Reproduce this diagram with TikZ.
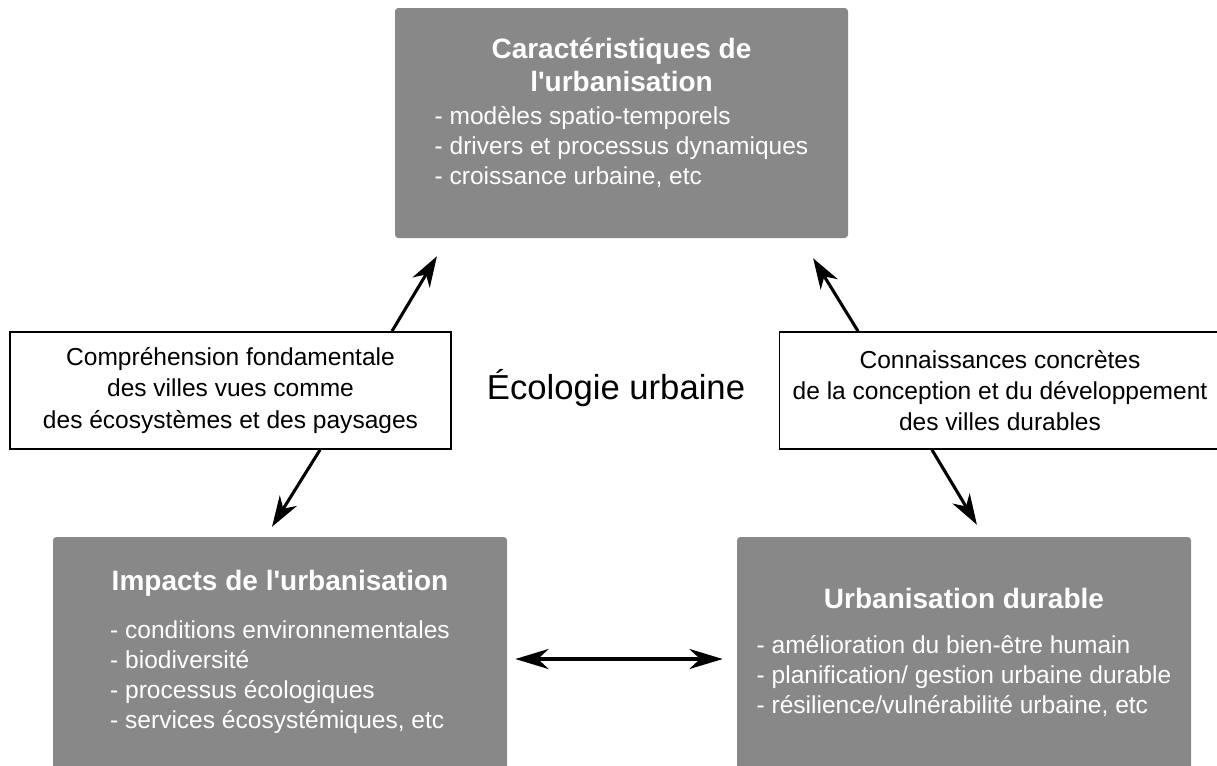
\documentclass[tikz,border=0pt]{standalone}
\usepackage{fontspec}
\setmainfont{Liberation Sans}[Ligatures=TeXOff]
\usetikzlibrary{arrows.meta, positioning, calc}
\definecolor{boxgrey}{RGB}{136,136,136}
\tikzstyle{greybox} = [rectangle, rounded corners=2.5pt, fill=boxgrey, text=white, inner sep=0pt]
\tikzstyle{linkbox} = [rectangle, draw=black, line width=1.3pt, fill=white, align=center, minimum width=330.75pt, minimum height=87.75pt, font=\fontsize{18.4}{23.5}\selectfont]
\tikzstyle{arrow} = [line width=2.3pt, -{Stealth[length=23pt, width=15pt, inset=7pt]}]
\tikzstyle{twoway} = [line width=3pt, {Stealth[length=25pt, width=15pt, inset=8pt]}-{Stealth[length=25pt, width=15pt, inset=8pt]}]
% width, height, first baseline, title, gap, items
\newcommand{\greytext}[6]{\parbox[c][#2][t]{#1}{\centering
  \fontsize{21}{24.75}\selectfont\bfseries\rule{0pt}{#3}#4\par
  \fontsize{18.4}{22.6}\selectfont\mdseries\vspace{#5}
  \begin{tabular}[t]{@{}l@{}}#6\end{tabular}\par}}

\begin{document}
\begin{tikzpicture}[x=0.75pt, y=-0.75pt]
\useasboundingbox (0,0) rectangle (1217,765);

% Boxes
\node (carac) [greybox] at (621.5,123) {\greytext{339.75pt}{172.5pt}{37.5pt}{Caractéristiques de\\l'urbanisation}{2.25pt}{- modèles spatio-temporels\\- drivers et processus dynamiques\\- croissance urbaine, etc}};
\node (impact) [greybox] at (280,657) {\greytext{340.5pt}{180pt}{39.75pt}{Impacts de l'urbanisation}{13.5pt}{- conditions environnementales\\- biodiversité\\- processus écologiques\\- services écosystémiques, etc}};
\node (durable) [greybox] at (964,657) {\greytext{340.5pt}{180pt}{53.25pt}{Urbanisation durable}{11.25pt}{- amélioration du bien-être humain\\- planification/ gestion urbaine durable\\- résilience/vulnérabilité urbaine, etc}};
\node (compr) [linkbox] at (230.5,390.5) {Compréhension fondamentale\\des villes vues comme\\des écosystèmes et des paysages};
\node (conn) [linkbox] at (1000,390.5) {Connaissances concrètes\\de la conception et du développement\\des villes durables};
\node (eco) at (616,388) [font=\fontsize{26}{30}\selectfont] {Écologie urbaine};

% Arrows
\draw [arrow, shorten >=15.7pt] ($(compr.north)+(161.5,0)$) -- ($(carac.south)+(-173.8,0)$);
\draw [arrow, shorten >=8.8pt] ($(compr.south)+(89.5,0)$) -- ($(impact.north)+(-14.2,0)$);
\draw [arrow, shorten >=17.6pt] ($(conn.north)+(-142,0)$) -- ($(carac.south)+(179.3,0)$);
\draw [arrow, shorten >=10.5pt] ($(conn.south)+(-68,0)$) -- ($(durable.north)+(20.1,0)$);
\draw [twoway, shorten <=6pt, shorten >=10.5pt] ([yshift=-1.5pt]impact.east) -- ([yshift=-1.5pt]durable.west);

\end{tikzpicture}
\end{document}
